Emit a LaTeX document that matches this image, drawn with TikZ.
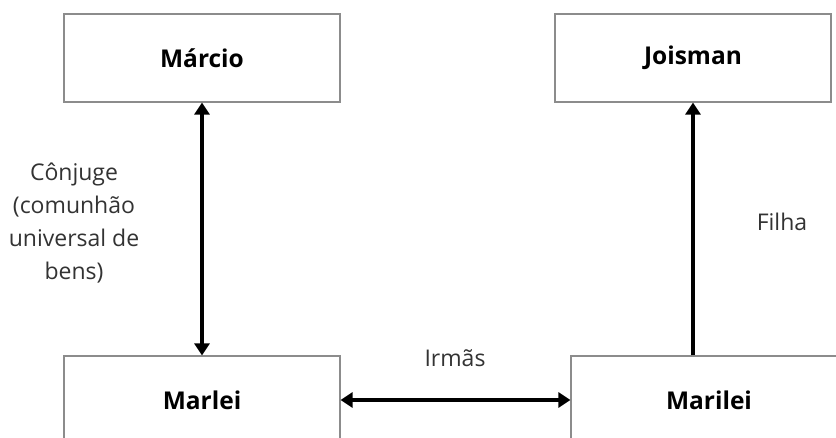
\documentclass[tikz,border=0pt]{standalone}
\usepackage{fontspec}
\setmainfont{Open Sans}
\usetikzlibrary{arrows.meta}
\tikzset{
  person/.style={draw=black!45, line width=1.2pt, fill=white, minimum width=276pt,
    minimum height=88pt, inner sep=0pt, font=\fontsize{24.5}{28}\selectfont\bfseries},
  conn/.style={line width=3.2pt, {Triangle[width=15pt,length=12pt]}-{Triangle[width=15pt,length=12pt]}},
  connto/.style={line width=3.2pt, -{Triangle[width=15pt,length=12pt]}},
  rel/.style={text=black!80, align=center, inner sep=0pt,
    font=\fontsize{23}{32.7}\selectfont}
}
\begin{document}
\begin{tikzpicture}[x=1pt,y=-1pt]
  \useasboundingbox (0,0) rectangle (836,438);
  \clip (0,0) rectangle (836,438);
  \fill[white] (0,0) rectangle (836,438);

  % people
  \node[person] (marcio)  at (202,58)  {Márcio};
  \node[person] (joisman) at (693,58)  {Joisman};
  \node[person] (marlei)  at (202,400) {Marlei};
  \node[person] (marilei) at (709,400) {Marilei};

  % relations
  \draw[conn] (marcio.south) -- (marlei.north);
  \draw[conn] (marlei.east) -- (marilei.west);
  \draw[connto] (marilei.north -| joisman.south) -- (joisman.south);

  % relation labels
  \node[rel] (lconj) at (74,223) {Cônjuge\\(comunhão\\universal de\\bens)};
  \node[rel] (lirm)  at (455,358) {Irmãs};
  \node[rel] (lfil)  at (782,222) {Filha};
\end{tikzpicture}
\end{document}
